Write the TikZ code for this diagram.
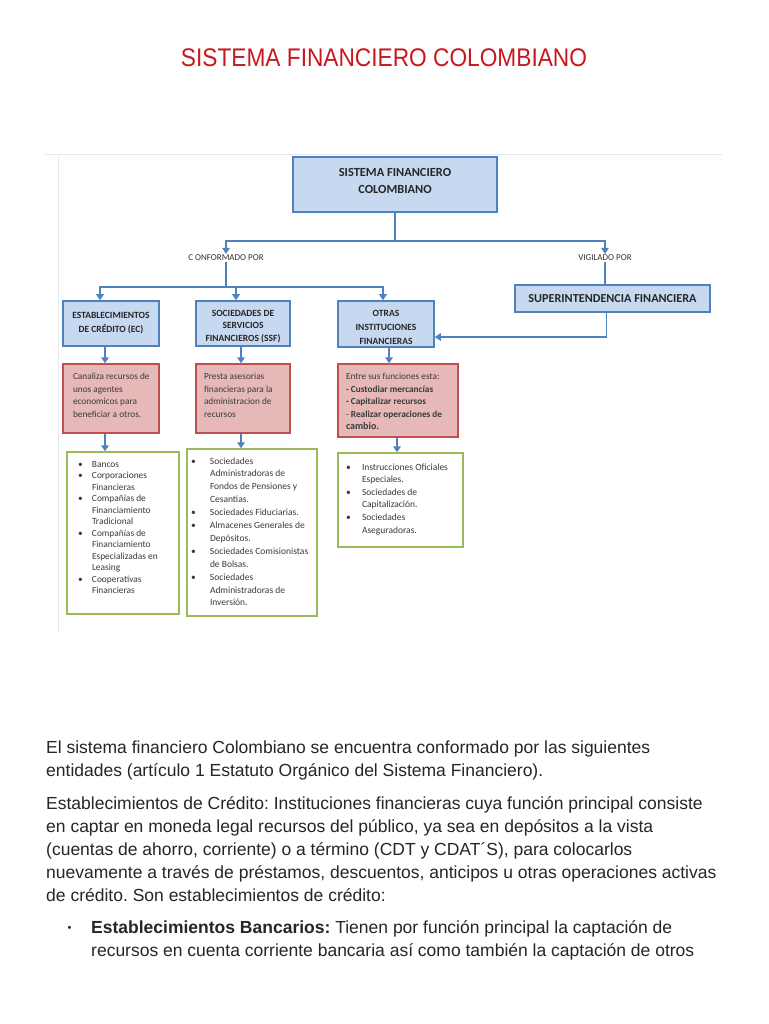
\documentclass[tikz,border=0pt]{standalone}
\usepackage{fontspec}
\setmainfont{Liberation Sans}
\newfontfamily\calib{Carlito}
\newfontfamily\narrowfont[FakeStretch=0.89]{Liberation Sans}
\usetikzlibrary{arrows.meta}
\definecolor{bfill}{HTML}{C6D9F1}
\definecolor{bdraw}{HTML}{4F81BD}
\definecolor{rfill}{HTML}{E6B9B8}
\definecolor{rdraw}{HTML}{C0504D}
\definecolor{gdraw}{HTML}{9BBB59}
\definecolor{ttl}{HTML}{C8171E}
\definecolor{txt}{HTML}{262626}
\definecolor{dtxt}{HTML}{3A3A3A}
\definecolor{faint}{HTML}{E6EAF0}
\newcommand\bxt[4]{\begin{minipage}[c][#1][t]{#2}\vspace*{#3}\noindent #4\end{minipage}}
\newcommand\bl{\hspace*{-4pt}•}
\frenchspacing
\begin{document}
\begin{tikzpicture}[x=1pt,y=-1pt,
 bluebox/.style={draw=bdraw, fill=bfill, line width=1.6pt, inner sep=0pt, align=center, font=\calib\bfseries\fontsize{9.5}{14}\selectfont, text=black!85},
 redbox/.style={draw=rdraw, fill=rfill, line width=1.4pt, inner sep=0pt, font=\calib\fontsize{9.3}{12.5}\selectfont, text=dtxt},
 greenbox/.style={draw=gdraw, line width=1.4pt, fill=white, inner sep=0pt, text=dtxt},
 conn/.style={draw=bdraw, line width=1.8pt},
 arr/.style={conn, -{Triangle[width=7.5pt,length=6pt]}},
 lbl/.style={font=\calib\fontsize{9}{10}\selectfont, inner sep=1pt, text=black!80},
 body/.style={anchor=base west, inner sep=0pt, font=\fontsize{17.5}{23}\selectfont, text=txt}
]
\useasboundingbox (0,0) rectangle (768,1024);
\fill[white] (0,0) rectangle (768,1024);
% faint screenshot lines
\draw[faint, line width=1pt] (45,155) -- (722,155);
\draw[faint, line width=1pt] (58,156) -- (58,632);

\node[anchor=base, inner sep=0pt, text=ttl, font=\narrowfont\fontsize{25.5}{28}\selectfont] (title) at (384,66.7) {SISTEMA FINANCIERO COLOMBIANO};

% blue boxes
\node[bluebox, minimum width=204pt, minimum height=55pt, font=\calib\bfseries\fontsize{12.4}{17}\selectfont] (root) at (395,184.5) {SISTEMA FINANCIERO\\COLOMBIANO\rule[-7pt]{0pt}{0pt}};
\node[bluebox, minimum width=96pt, minimum height=45pt] (ec) at (111,323.5) {ESTABLECIMIENTOS\\DE CRÉDITO (EC)};
\node[bluebox, minimum width=94pt, minimum height=45pt, font=\calib\bfseries\fontsize{9.5}{12.5}\selectfont] (ssf) at (243,323.5) {\rule{0pt}{12.2pt}SOCIEDADES DE\\SERVICIOS\\FINANCIEROS (SSF)};
\node[bluebox, minimum width=96pt, minimum height=46pt] (otras) at (386,324) {\rule{0pt}{12.2pt}OTRAS\\INSTITUCIONES\\FINANCIERAS};
\node[bluebox, minimum width=195pt, minimum height=27pt, font=\calib\bfseries\fontsize{12.2}{14}\selectfont] (sup) at (612.5,298.5) {SUPERINTENDENCIA FINANCIERA};

% labels
\node[lbl] (conf) at (226,258) {C ONFORMADO POR};
\node[lbl] (vig) at (605,258) {VIGILADO POR};

% red boxes
\node[redbox, minimum width=96pt, minimum height=69pt] (redec) at (111,398.5) {\bxt{69pt}{76pt}{6.75pt}{\begin{tabular}{@{}l@{}}Canaliza recursos de\\unos agentes\\economicos para\\beneficiar a otros.\end{tabular}}};
\node[redbox, minimum width=94pt, minimum height=69pt] (redssf) at (243,398.5) {\bxt{69pt}{78pt}{6.75pt}{\begin{tabular}{@{}l@{}}Presta asesorias\\financieras para la\\administracion de\\recursos\end{tabular}}};
\node[redbox, minimum width=120pt, minimum height=73pt] (redotras) at (398,400.5) {\bxt{73pt}{104pt}{6.75pt}{\begin{tabular}{@{}l@{}}Entre sus funciones esta:\\\textbf{- Custodiar mercancías}\\\textbf{- Capitalizar recursos}\\- \textbf{Realizar operaciones de}\\{\fontsize{10}{12.5}\selectfont\textbf{cambio.}}\end{tabular}}};

% green boxes
\node[greenbox, minimum width=112pt, minimum height=162pt, font=\calib\fontsize{9.4}{11.5}\selectfont] (greenec) at (123,533) {\bxt{162pt}{82pt}{7pt}{%
\begin{tabular}{@{}p{10pt}@{}l@{}}
\bl & Bancos\\
\bl & Corporaciones\\
  & Financieras\\
\bl & Compañías de\\
  & Financiamiento\\
  & Tradicional\\
\bl & Compañías de\\
  & Financiamiento\\
  & Especializadas en\\
  & Leasing\\
\bl & Cooperativas\\
  & Financieras
\end{tabular}}};
\node[greenbox, minimum width=130pt, minimum height=167pt, font=\calib\fontsize{9.5}{12.9}\selectfont] (greenssf) at (252,532.5) {\bxt{167pt}{114pt}{6pt}{%
\begin{tabular}{@{}p{15pt}@{}l@{}}
\bl & Sociedades\\
  & Administradoras de\\
  & Fondos de Pensiones y\\
  & Cesantias.\\
\bl & Sociedades Fiduciarias.\\
\bl & Almacenes Generales de\\
  & Depósitos.\\
\bl & Sociedades Comisionistas\\
  & de Bolsas.\\
\bl & Sociedades\\
  & Administradoras de\\
  & Inversión.
\end{tabular}}};
\node[greenbox, minimum width=125pt, minimum height=94pt, font=\calib\fontsize{9.5}{12.6}\selectfont] (greenotras) at (400.5,500) {\bxt{94pt}{101pt}{8.2pt}{%
\begin{tabular}{@{}p{12pt}@{}l@{}}
\bl & Instrucciones Oficiales\\
  & Especiales.\\
\bl & Sociedades de\\
  & Capitalización.\\
\bl & Sociedades\\
  & Aseguradoras.
\end{tabular}}};

% connectors
\coordinate (hub) at (226,287);
\draw[arr] (root.south) -- ++(0,28) -| (conf.north);
\draw[arr] (root.south) -- ++(0,28) -| (vig.north);
\draw[conn] (conf.south) -- (hub);
\draw[arr] (hub) -| ([xshift=-11pt]ec.north);
\draw[arr] (hub) -| ([xshift=-7pt]ssf.north);
\draw[arr] (hub) -| ([xshift=-3pt]otras.north);
\draw[conn] (vig.south) -- (vig.south |- sup.north);
\draw[arr] ([xshift=-6pt]sup.south) |- ([yshift=-13pt]otras.east);
\draw[arr] ([xshift=-6pt]ec.south) -- ([xshift=-6pt]ec.south |- redec.north);
\draw[arr] ([xshift=-2pt]ssf.south) -- ([xshift=-2pt]ssf.south |- redssf.north);
\draw[arr] ([xshift=3pt]otras.south) -- ([xshift=3pt]otras.south |- redotras.north);
\draw[arr] ([xshift=-6pt]redec.south) -- ([xshift=-6pt]redec.south |- greenec.north);
\draw[arr] ([xshift=-2pt]redssf.south) -- ([xshift=-2pt]redssf.south |- greenssf.north);
\draw[arr] ([xshift=-1pt]redotras.south) -- ([xshift=-1pt]redotras.south |- greenotras.north);

% body text
\node[body] (l1) at (46,753.7) {El sistema financiero Colombiano se encuentra conformado por las siguientes};
\node[body] (l2) at (46,776.7) {entidades (artículo 1 Estatuto Orgánico del Sistema Financiero).};
\node[body] (l3) at (46,809.3) {Establecimientos de Crédito: Instituciones financieras cuya función principal consiste};
\node[body] (l4) at (46,832.3) {en captar en moneda legal recursos del público, ya sea en depósitos a la vista};
\node[body] (l5) at (46,855.3) {(cuentas de ahorro, corriente) o a término (CDT y CDAT´S), para colocarlos};
\node[body] (l6) at (46,878.3) {nuevamente a través de préstamos, descuentos, anticipos u otras operaciones activas};
\node[body] (l7) at (46,901.3) {de crédito. Son establecimientos de crédito:};
\node[body, font=\fontsize{11}{12}\selectfont] (bul) at (67.5,931.5) {•};
\node[body] (l8) at (91,933.3) {\textbf{Establecimientos Bancarios:} Tienen por función principal la captación de};
\node[body] (l9) at (91,956.3) {recursos en cuenta corriente bancaria así como también la captación de otros};
\end{tikzpicture}
\end{document}
